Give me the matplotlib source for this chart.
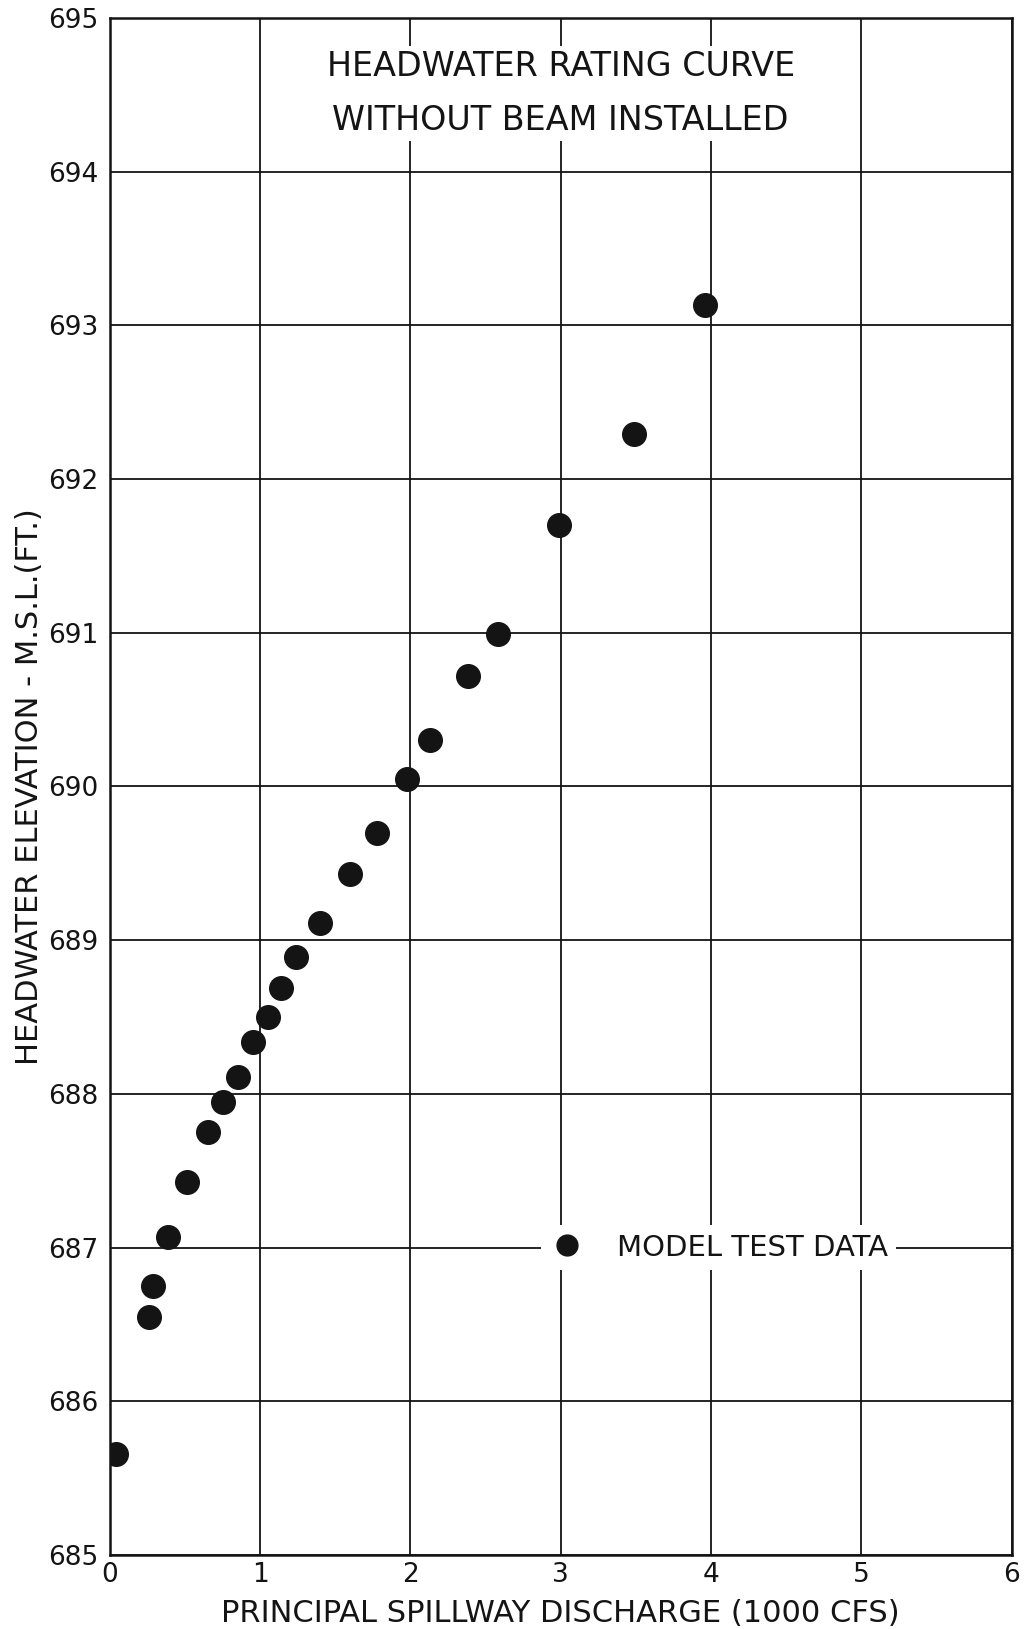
import numpy as np
import matplotlib.pyplot as plt
from matplotlib.lines import Line2D

# model test data
discharge = [0.04, 0.26, 0.29, 0.39, 0.51, 0.65, 0.75, 0.85, 0.95, 1.05, 1.14,
             1.24, 1.40, 1.60, 1.78, 1.98, 2.13, 2.38, 2.58, 2.99, 3.49, 3.96]
elevation = [685.66, 686.55, 686.75, 687.07, 687.43, 687.75, 687.95, 688.11,
             688.34, 688.50, 688.69, 688.89, 689.11, 689.43, 689.70, 690.05,
             690.30, 690.72, 690.99, 691.70, 692.29, 693.13]

x_ticks = [0, 1, 2, 3, 4, 5, 6]
y_ticks = [685, 686, 687, 688, 689, 690, 691, 692, 693, 694, 695]

title_text = 'HEADWATER RATING CURVE\nWITHOUT BEAM INSTALLED'
legend_label = 'MODEL TEST DATA'
x_label = 'PRINCIPAL SPILLWAY DISCHARGE (1000 CFS)'
y_label = 'HEADWATER ELEVATION - M.S.L.(FT.)'

plt.rcParams['font.family'] = ['DejaVu Sans']
ink = '#141414'

fig = plt.figure(figsize=(10.27, 16.29), dpi=100)
ax = fig.add_axes([0.107, 0.0454, 0.878, 0.9436])

ax.set_xlim(0, 6)
ax.set_ylim(685, 695)
ax.set_xticks(x_ticks)
ax.set_yticks(y_ticks)
ax.set_axisbelow(True)
ax.grid(True, color=ink, linewidth=1.3)
for sp in ax.spines.values():
    sp.set_linewidth(1.8)
    sp.set_color(ink)
ax.tick_params(axis='both', length=0, labelsize=19, colors=ink)
ax.tick_params(axis='y', pad=8)
ax.tick_params(axis='x', pad=5)

ax.plot(discharge, elevation, 'o', ms=17, color=ink, zorder=3)

ax.text(3.0, 694.51, title_text, ha='center', va='center', fontsize=24,
        color=ink, linespacing=1.8, zorder=4,
        bbox=dict(facecolor='white', edgecolor='none', pad=3))

handle = Line2D([], [], marker='o', ls='none', ms=15, color=ink)
leg = ax.legend([handle], [legend_label], loc='center',
                bbox_to_anchor=(4.05, 687.0), bbox_transform=ax.transData,
                fontsize=21, frameon=True, fancybox=False, framealpha=1,
                facecolor='white', edgecolor='none', borderpad=0.3,
                handlelength=1.2, handletextpad=1.1, borderaxespad=0)
for t in leg.get_texts():
    t.set_color(ink)

ax.set_xlabel(x_label, fontsize=22, color=ink, labelpad=8)
ax.set_ylabel(y_label, fontsize=22, color=ink, labelpad=3)

fig.savefig('out.png', dpi=100, facecolor='white')
